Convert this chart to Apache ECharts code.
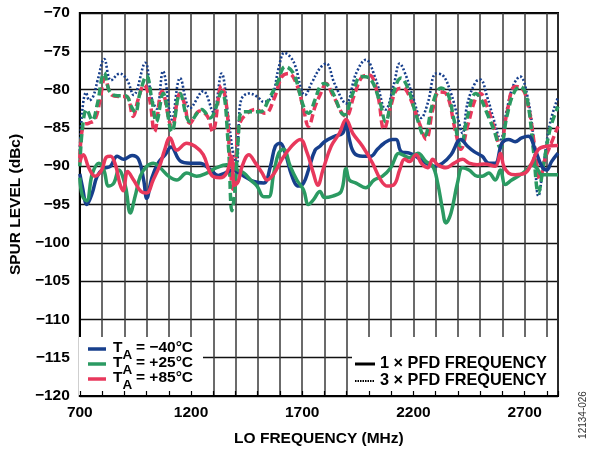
<!DOCTYPE html>
<html>
<head>
<meta charset="utf-8">
<script src="https://cdn.jsdelivr.net/npm/echarts@6/dist/echarts.min.js"></script>
<style>
  html, body { margin: 0; padding: 0; background: #fff; }
  #chart { width: 597px; height: 452px; }
</style>
</head>
<body>
<div id="chart"></div>
<script>
// spur level (dBc) vs LO frequency (MHz)
const xLabels = [700, 1200, 1700, 2200, 2700];

// 1 x PFD frequency (solid)
const blue1x = [
  [700, -91], [711, -92.6], [732, -95.0], [756, -93.5], [778, -91.3], [808, -90.3], [838, -90.0],
  [868, -88.7], [897, -89.1], [935, -88.6], [964, -89.1], [987, -91.8], [1001, -94.2], [1024, -91.5],
  [1054, -89.5], [1084, -88.5], [1110, -87.5], [1151, -89.3], [1196, -89.6], [1240, -89.6],
  [1285, -90.4], [1322, -91.2], [1352, -90.9], [1389, -90.5], [1410, -90.8], [1438, -91.3],
  [1482, -92.0], [1527, -92.2], [1557, -90.0], [1579, -87.4], [1601, -87.0], [1624, -88.3],
  [1654, -91.3], [1683, -92.6], [1706, -92.2], [1728, -90.5], [1758, -87.9], [1780, -87.4],
  [1800, -86.8], [1845, -86.1], [1882, -85.7], [1897, -84.2], [1912, -86.5], [1934, -88.3],
  [1971, -88.7], [2008, -88.7], [2038, -87.8], [2068, -87.0], [2105, -86.5], [2123, -86.5],
  [2145, -88.1], [2182, -88.3], [2220, -88.9], [2257, -89.6], [2294, -90.0], [2331, -89.6],
  [2369, -88.5], [2413, -86.5], [2443, -87.4], [2473, -88.1], [2509, -88.7], [2539, -89.6],
  [2568, -89.6], [2598, -87.0], [2628, -86.5], [2657, -86.8], [2687, -86.3], [2717, -86.1],
  [2747, -87.8], [2777, -90.0], [2799, -90.5], [2821, -89.4], [2850, -88.3]
];
const green1x = [
  [700, -91.5], [712, -93.9], [731, -94.5], [756, -91.0], [786, -89.6], [808, -90.5], [830, -92.6],
  [853, -92.2], [875, -90.5], [905, -92.6], [927, -96.1], [949, -93.9], [972, -91.3], [1001, -90.0],
  [1031, -89.6], [1061, -90.2], [1099, -91.3], [1136, -91.8], [1181, -90.9], [1225, -91.3],
  [1270, -90.9], [1315, -90.2], [1360, -89.8], [1390, -90.2], [1410, -90.5], [1438, -90.9],
  [1468, -91.8], [1497, -92.6], [1527, -94.0], [1549, -94.0], [1572, -90.9], [1594, -88.3],
  [1616, -87.8], [1646, -90.0], [1676, -91.8], [1706, -93.1], [1728, -95.0], [1750, -94.4],
  [1780, -93.3], [1800, -94.1], [1837, -93.9], [1875, -93.3], [1897, -90.3], [1912, -91.8],
  [1942, -92.2], [1986, -92.8], [2023, -91.8], [2061, -91.3], [2098, -90.2], [2135, -88.3],
  [2150, -88.5], [2182, -88.9], [2220, -88.3], [2257, -89.4], [2287, -90.0], [2309, -92.2],
  [2331, -95.7], [2346, -97.4], [2369, -96.1], [2398, -92.2], [2421, -90.2], [2450, -90.5],
  [2487, -91.3], [2509, -91.3], [2539, -90.9], [2568, -91.8], [2591, -90.5], [2613, -92.4],
  [2642, -91.8], [2672, -91.3], [2709, -90.5], [2732, -89.8], [2754, -90.2], [2777, -91.1],
  [2806, -91.1], [2850, -91.1]
];
const red1x = [
  [700, -89.5], [716, -88.5], [740, -90.2], [768, -91.3], [798, -90.5], [820, -88.8], [838, -88.7],
  [860, -89.8], [880, -92.3], [895, -93.2], [915, -90.7], [942, -91.8], [975, -93.3], [1000, -93.5],
  [1030, -91.8], [1061, -89.8], [1080, -88.0], [1105, -86.3], [1136, -87.9], [1181, -87.0],
  [1218, -87.4], [1255, -88.5], [1293, -91.2], [1330, -91.5], [1360, -90.9], [1382, -88.7],
  [1395, -92.5], [1412, -92.0], [1430, -90.0], [1460, -88.5], [1490, -89.6], [1520, -90.9],
  [1542, -91.8], [1572, -91.0], [1609, -89.1], [1646, -87.6], [1691, -86.5], [1720, -88.1],
  [1750, -90.9], [1770, -92.5], [1793, -90.5], [1830, -87.4], [1867, -85.7], [1897, -83.9],
  [1927, -85.7], [1971, -87.4], [2016, -89.6], [2053, -91.8], [2083, -92.6], [2113, -92.4],
  [2138, -90.5], [2160, -89.1], [2182, -89.4], [2212, -88.5], [2235, -89.6], [2264, -90.2],
  [2287, -89.1], [2309, -89.8], [2346, -90.2], [2383, -89.6], [2421, -89.1], [2450, -89.6],
  [2487, -89.8], [2520, -89.7], [2568, -90.0], [2591, -88.3], [2606, -90.0], [2628, -90.9],
  [2657, -91.1], [2702, -90.9], [2732, -89.6], [2762, -87.8], [2799, -87.4], [2850, -87.3]
];

// 3 x PFD frequency (dotted / dashed)
const blue3x = [
  [700, -88], [712, -82.5], [728, -80.4], [743, -81.4], [760, -80.9], [781, -78.7], [810, -76.0],
  [840, -78.8], [879, -77.9], [912, -78.7], [942, -80.7], [994, -76.5], [1022, -81.0], [1046, -82.5],
  [1074, -77.6], [1114, -83.9], [1151, -78.5], [1196, -82.4], [1255, -80.2], [1300, -82.9],
  [1337, -77.9], [1367, -83.5], [1390, -88.5], [1405, -90], [1415, -84.4], [1426, -81.3],
  [1460, -80.5], [1497, -80.9], [1527, -81.6], [1564, -80.9], [1594, -77.2], [1620, -75.2],
  [1660, -76.3], [1713, -80.7], [1743, -79.1], [1780, -77.2], [1808, -76.6], [1845, -79.2],
  [1897, -81.8], [1942, -77.9], [1986, -76.1], [2031, -78.7], [2075, -82.6], [2113, -79.2],
  [2138, -76.6], [2168, -78.3], [2197, -80.9], [2235, -83.7], [2264, -81.8], [2302, -77.9],
  [2331, -78.1], [2369, -80.5], [2398, -83.5], [2421, -85.7], [2443, -81.8], [2480, -79.0],
  [2501, -78.7], [2531, -80.9], [2561, -83.9], [2591, -86.5], [2620, -82.6], [2650, -79.4],
  [2680, -78.3], [2710, -80.5], [2739, -86.1], [2762, -93.9], [2784, -90.0], [2814, -84.4],
  [2850, -81.0]
];
const green3x = [
  [700, -90], [712, -85], [731, -82.6], [756, -84.0], [778, -82.0], [810, -77.8], [835, -80.3],
  [870, -80.8], [905, -80.8], [935, -82.4], [950, -83.0], [970, -80.5], [1000, -78.2], [1025, -81.5],
  [1044, -84.2], [1075, -80.5], [1114, -85.5], [1151, -80.5], [1196, -84.2], [1248, -82.6],
  [1285, -83.7], [1337, -80.3], [1367, -87.0], [1384, -95.8], [1398, -93], [1412, -86.5],
  [1430, -82.9], [1468, -82.9], [1512, -82.9], [1549, -81.3], [1587, -79.2], [1624, -77.0],
  [1661, -77.9], [1706, -82.2], [1728, -83.1], [1758, -81.3], [1780, -79.6], [1800, -79.2],
  [1830, -80.0], [1889, -83.3], [1927, -80.5], [1964, -78.3], [2001, -78.5], [2046, -81.3],
  [2075, -84.2], [2105, -80.9], [2145, -78.5], [2175, -79.8], [2212, -83.3], [2249, -86.1],
  [2287, -81.8], [2324, -79.8], [2354, -80.5], [2383, -84.0], [2413, -87.4], [2443, -83.5],
  [2480, -80.5], [2501, -81.1], [2531, -83.1], [2561, -85.2], [2591, -87.6], [2620, -83.5],
  [2650, -80.5], [2680, -79.6], [2710, -81.1], [2739, -87.8], [2762, -93.5], [2784, -90.0],
  [2814, -85.2], [2850, -82.2]
];
const red3x = [
  [700, -89], [716, -84.6], [739, -84.4], [768, -83.9], [790, -81.5], [813, -78.5], [843, -80.7],
  [880, -80.9], [910, -80.9], [940, -83.5], [962, -81.3], [989, -79.4], [1014, -81.3], [1036, -85.5],
  [1070, -80.2], [1114, -84.9], [1150, -80.5], [1170, -81.8], [1195, -84.4], [1240, -82.8],
  [1274, -83.5], [1297, -85.5], [1337, -79.5], [1360, -82.2], [1374, -88.7], [1388, -93.0],
  [1401, -89.5], [1415, -84.8], [1445, -83.3], [1490, -82.6], [1534, -83.1], [1572, -81.3],
  [1609, -78.3], [1639, -77.9], [1676, -79.4], [1706, -82.6], [1728, -84.8], [1758, -82.2],
  [1780, -80.7], [1808, -79.2], [1837, -80.7], [1897, -83.5], [1934, -80.7], [1971, -78.3],
  [2001, -78.1], [2038, -80.5], [2068, -85.2], [2098, -82.2], [2125, -80.0], [2153, -79.8],
  [2182, -80.9], [2227, -84.4], [2257, -86.5], [2287, -82.6], [2316, -80.3], [2346, -80.5],
  [2391, -85.7], [2413, -87.8], [2443, -84.8], [2480, -81.1], [2501, -80.5], [2531, -82.2],
  [2561, -84.8], [2591, -87.4], [2620, -83.1], [2657, -79.6], [2687, -79.8], [2717, -82.2],
  [2747, -87.8], [2769, -91.8], [2791, -89.1], [2814, -87.4], [2850, -84.8]
];

const BLUE = '#173f8c';
const GREEN = '#2b9a62';
const RED = '#e8385c';
const FONT = 'Arial, "Liberation Sans", sans-serif';

const chart = echarts.init(document.getElementById('chart'));

function line(name, data, color, width, type, z) {
  return {
    name: name,
    type: 'line',
    data: data,
    showSymbol: false,
    smooth: 0.4,
    z: z,
    lineStyle: { color: color, width: width, type: type, cap: 'butt' }
  };
}

function legendRow(y, color, temp) {
  return [
    { type: 'line', shape: { x1: 88, y1: y, x2: 106, y2: y }, style: { stroke: color, lineWidth: 3.5 }, z: 20 },
    { type: 'text', x: 113, y: y - 1, style: { text: 'T', font: 'bold 15.5px ' + FONT, fill: '#000', verticalAlign: 'middle' }, z: 20 },
    { type: 'text', x: 122.5, y: y + 6, style: { text: 'A', font: 'bold 13.5px ' + FONT, fill: '#000', verticalAlign: 'middle' }, z: 20 },
    { type: 'text', x: 136, y: y - 1, style: { text: '= ' + temp, font: 'bold 15.5px ' + FONT, fill: '#000', verticalAlign: 'middle' }, z: 20 }
  ];
}

const option = {
  animation: false,
  backgroundColor: '#fff',
  grid: {
    left: 78, right: 39, top: 13, bottom: 55,
    show: true, borderColor: '#000', borderWidth: 2
  },
  xAxis: [
    {
      type: 'value', min: 700, max: 2850, interval: 100,
      name: 'LO FREQUENCY (MHz)', nameLocation: 'middle', nameGap: 35,
      nameTextStyle: { fontFamily: FONT, fontWeight: 'bold', fontSize: 15.5, color: '#000' },
      axisLine: { lineStyle: { color: '#000', width: 2 } },
      axisTick: { show: false },
      axisLabel: {
        margin: 9, fontFamily: FONT, fontWeight: 'bold', fontSize: 15.5, color: '#000',
        formatter: function (v) { return xLabels.indexOf(v) >= 0 ? String(v) : ''; }
      },
      splitLine: { lineStyle: { color: '#3a3a3a', width: 1.5 } }
    },
    {
      // short inside ticks that stay visible over the legend boxes
      type: 'value', min: 700, max: 2850, interval: 100, position: 'bottom', z: 30,
      axisLine: { show: false },
      axisTick: { show: true, inside: true, length: 5, lineStyle: { color: '#000', width: 1.2 } },
      axisLabel: { show: false },
      splitLine: { show: false }
    }
  ],
  yAxis: {
    type: 'value', min: -120, max: -70, interval: 5,
    name: 'SPUR LEVEL (dBc)', nameLocation: 'middle', nameGap: 48,
    nameTextStyle: { fontFamily: FONT, fontWeight: 'bold', fontSize: 15.5, color: '#000' },
    axisLine: { show: true, lineStyle: { color: '#000', width: 2 } },
    axisTick: { show: false },
    axisLabel: {
      margin: 10, fontFamily: FONT, fontWeight: 'bold', fontSize: 15.5, color: '#000',
      formatter: function (v) { return String(v).replace('-', '\u2212'); }
    },
    splitLine: { lineStyle: { color: '#111', width: 1.3 } }
  },
  series: [
    line('blue3x', blue3x, BLUE, 2.6, [2, 2], 3),
    line('red3x', red3x, RED, 3.5, [8, 4], 4),
    line('green3x', green3x, GREEN, 3.5, [8, 4], 5),
    line('blue1x', blue1x, BLUE, 3.5, 'solid', 6),
    line('green1x', green1x, GREEN, 3.5, 'solid', 7),
    line('red1x', red1x, RED, 3.5, 'solid', 8)
  ],
  graphic: [
    // legend boxes hide the grid
    { type: 'rect', shape: { x: 79, y: 337, width: 124, height: 58 }, style: { fill: '#fff' }, z: 10 },
    { type: 'rect', shape: { x: 352, y: 337, width: 205, height: 58 }, style: { fill: '#fff' }, z: 10 }
  ]
    .concat(legendRow(349, BLUE, '\u221240\u00b0C'))
    .concat(legendRow(364, GREEN, '+25\u00b0C'))
    .concat(legendRow(379, RED, '+85\u00b0C'))
    .concat([
      { type: 'line', shape: { x1: 355, y1: 364, x2: 375, y2: 364 }, style: { stroke: '#000', lineWidth: 3 }, z: 20 },
      { type: 'text', x: 380, y: 364, style: { text: '1 \u00d7 PFD FREQUENCY', font: 'bold 16.3px ' + FONT, fill: '#000', verticalAlign: 'middle' }, z: 20 },
      { type: 'line', shape: { x1: 355, y1: 381, x2: 375, y2: 381 }, style: { stroke: '#000', lineWidth: 2, lineDash: [1.5, 1] }, z: 20 },
      { type: 'text', x: 380, y: 381, style: { text: '3 \u00d7 PFD FREQUENCY', font: 'bold 16.3px ' + FONT, fill: '#000', verticalAlign: 'middle' }, z: 20 },
      { type: 'text', x: 583, y: 415, rotation: Math.PI / 2, style: { text: '12134-026', font: '10px ' + FONT, fill: '#333', align: 'center', verticalAlign: 'middle' }, z: 20 }
    ])
};

chart.setOption(option);
</script>
</body>
</html>
